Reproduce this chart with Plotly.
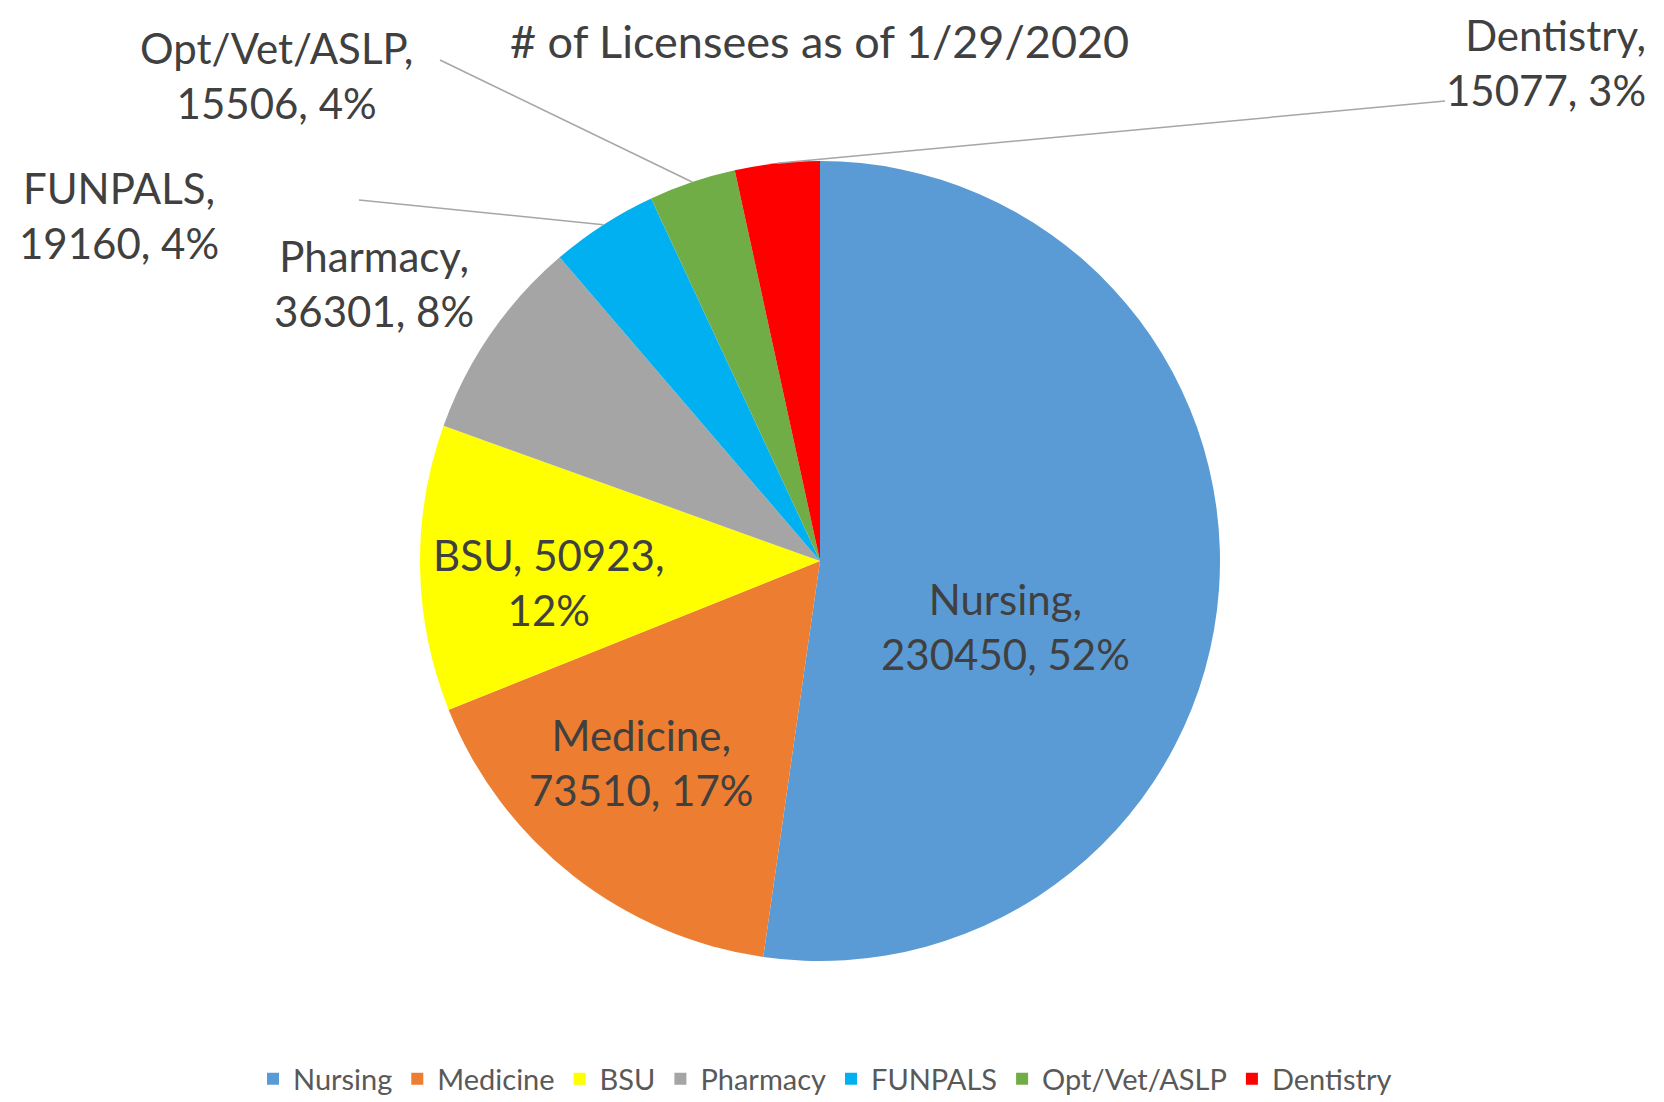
import math
import plotly.graph_objects as go

# data
categories = ["Nursing", "Medicine", "BSU", "Pharmacy", "FUNPALS", "Opt/Vet/ASLP", "Dentistry"]
licensees = [230450, 73510, 50923, 36301, 19160, 15506, 15077]
colors = ["#5B9BD5", "#ED7D31", "#FFFF00", "#A5A5A5", "#00B0F0", "#70AD47", "#FF0000"]

W, H = 1664, 1102
OFF = 8                            # page body margin
CX, CY, R = 820, 561, 400          # pie centre / radius in page pixels
FONT = "Lato"
TXT = "#404040"

total = sum(licensees)
pct = [round(100 * v / total) for v in licensees]


def px(x, y):
    # page pixels -> paper coords
    return (x - OFF) / W, 1 - (y - OFF) / H


def edge_point(i):
    # point on the rim at the middle of slice i (clockwise from 12 o'clock)
    start = sum(licensees[:i])
    mid = (start + licensees[i] / 2) / total * 2 * math.pi
    return CX + R * math.sin(mid), CY - R * math.cos(mid)


fig = go.Figure()
x0, y1 = px(CX - R, CY - R)
x1, y0 = px(CX + R, CY + R)
fig.add_trace(go.Pie(
    labels=categories,
    values=licensees,
    marker=dict(colors=colors, line=dict(width=0)),
    sort=False,
    direction="clockwise",
    rotation=0,
    textinfo="none",
    hole=0,
    domain=dict(x=[x0, x1], y=[y0, y1]),
))

# label text for each slice, and where it sits (pixels)
lab = [f"{c},<br>{v}, {p}%" for c, v, p in zip(categories, licensees, pct)]
lab[2] = f"BSU, {licensees[2]},<br>{pct[2]}%"
label_pos = [(1005, 626, "center"), (641, 762, "center"), (548, 582, "center"),
             (374, 283, "center"), (119, 216, "center"), (276, 76, "center"),
             (1648, 63, "right")]

annotations = []
for i, (lx, ly, al) in enumerate(label_pos):
    ax_, ay_ = px(lx, ly)
    annotations.append(dict(
        x=ax_, y=ay_, xref="paper", yref="paper", text=lab[i], showarrow=False,
        xanchor=al, yanchor="middle", align=al,
        font=dict(family=FONT, size=42, color=TXT),
    ))

# leader lines for the small slices
leader_start = {4: (359, 200), 5: (440, 60), 6: (1445, 101)}
shapes = []
for i, (sx, sy) in leader_start.items():
    ex, ey = edge_point(i)
    a, b = px(sx, sy)
    c, d = px(ex, ey)
    shapes.append(dict(type="line", xref="paper", yref="paper", x0=a, y0=b, x1=c, y1=d,
                       line=dict(color="#A6A6A6", width=1.5)))

tx, ty = px(819, 41)
annotations.append(dict(
    x=tx, y=ty, xref="paper", yref="paper", text="# of Licensees as of 1/29/2020",
    showarrow=False, xanchor="center", yanchor="middle",
    font=dict(family=FONT, size=45, color=TXT),
))

lgx, lgy = px(825, 1079)
fig.update_layout(
    width=W, height=H,
    margin=dict(l=0, r=0, t=0, b=0),
    paper_bgcolor="white",
    plot_bgcolor="white",
    annotations=annotations,
    shapes=shapes,
    showlegend=True,
    legend=dict(orientation="h", x=lgx, xanchor="center", y=lgy, yanchor="middle",
                font=dict(family=FONT, size=29, color="#595959"), itemwidth=30,
                traceorder="normal"),
)

fig.write_html("out.html")
